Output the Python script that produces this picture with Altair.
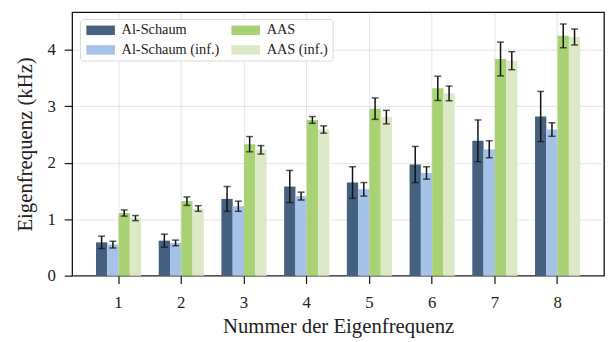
import altair as alt
import pandas as pd

modes = [1, 2, 3, 4, 5, 6, 7, 8]
series = ["Al-Schaum", "Al-Schaum (inf.)", "AAS", "AAS (inf.)"]
colors = ["#46617f", "#a5c3e6", "#a8d274", "#dde9c6"]

al = [0.59, 0.62, 1.36, 1.58, 1.65, 1.97, 2.39, 2.82]
al_err = [0.11, 0.115, 0.22, 0.285, 0.28, 0.32, 0.37, 0.445]
al_inf = [0.55, 0.58, 1.23, 1.41, 1.53, 1.82, 2.24, 2.59]
al_inf_err = [0.06, 0.05, 0.09, 0.07, 0.12, 0.11, 0.15, 0.12]
aas = [1.11, 1.32, 2.33, 2.76, 2.96, 3.32, 3.84, 4.25]
aas_err = [0.055, 0.075, 0.135, 0.06, 0.19, 0.215, 0.30, 0.21]
aas_inf = [1.02, 1.19, 2.23, 2.59, 2.81, 3.23, 3.81, 4.23]
aas_inf_err = [0.045, 0.05, 0.075, 0.065, 0.12, 0.13, 0.16, 0.14]

vals = [al, al_inf, aas, aas_inf]
errs = [al_err, al_inf_err, aas_err, aas_inf_err]

rows = []
for s, v, e in zip(series, vals, errs):
    for m, vi, ei in zip(modes, v, e):
        rows.append({"mode": str(m), "series": s, "value": vi,
                     "lo": vi - ei, "hi": vi + ei})
df = pd.DataFrame(rows)

FONT = "Liberation Serif"

x = alt.X("mode:N", sort=[str(m) for m in modes],
          scale=alt.Scale(paddingInner=0.28, paddingOuter=0.38),
          axis=alt.Axis(title="Nummer der Eigenfrequenz", labelAngle=0,
                        grid=True, labelPadding=11, titlePadding=6))
xo = alt.XOffset("series:N", sort=series, scale=alt.Scale(paddingInner=0, paddingOuter=0))
yscale = alt.Scale(domain=[0, 4.67], nice=False)

base = alt.Chart(df)

bars = base.mark_bar().encode(
    x=x,
    xOffset=xo,
    y=alt.Y("value:Q", scale=yscale,
            axis=alt.Axis(title="Eigenfrequenz (kHz)", values=[0, 1, 2, 3, 4],
                          format="d", grid=True, labelPadding=9, titlePadding=12)),
    color=alt.Color("series:N", sort=series,
                    scale=alt.Scale(domain=series, range=colors),
                    legend=alt.Legend(title=None, orient="none", legendX=8, legendY=7,
                                      columns=2, columnPadding=9, rowPadding=5,
                                      symbolType="M-3,-1H3V1H-3Z",
                                      symbolSize=93, symbolStrokeWidth=0,
                                      symbolOffset=9.6,
                                      labelFont=FONT, labelFontSize=14.5,
                                      labelColor="#222", labelOffset=14,
                                      fillColor="white", strokeColor="#d8d8d8",
                                      cornerRadius=3, padding=4)),
)

err = base.mark_rule(color="#111", strokeWidth=1.5).encode(
    x=x, xOffset=xo,
    y=alt.Y("lo:Q", scale=yscale),
    y2="hi:Q",
)
cap_lo = base.mark_tick(color="#111", thickness=1.5, size=7, orient="horizontal").encode(
    x=x, xOffset=xo, y=alt.Y("lo:Q", scale=yscale))
cap_hi = base.mark_tick(color="#111", thickness=1.5, size=7, orient="horizontal").encode(
    x=x, xOffset=xo, y=alt.Y("hi:Q", scale=yscale))

chart = alt.layer(bars, err, cap_lo, cap_hi).properties(
    width=539, height=267,
    autosize=alt.AutoSizeParams(type="none"),
    padding={"left": 65, "top": 2, "right": 1, "bottom": 64},
).configure_view(
    stroke="#111", strokeWidth=1.3
).configure_axis(
    labelFont=FONT, titleFont=FONT, labelFontSize=17, titleFontSize=21,
    titleFontWeight="normal", labelColor="#222", titleColor="#222",
    domain=False, tickColor="#111", tickSize=8, tickWidth=1.2,
    gridColor="#a8a8a8", gridWidth=1, gridOpacity=0.3, zindex=1,
)

chart.save("out.html", embed_options={"renderer": "svg", "actions": False})
